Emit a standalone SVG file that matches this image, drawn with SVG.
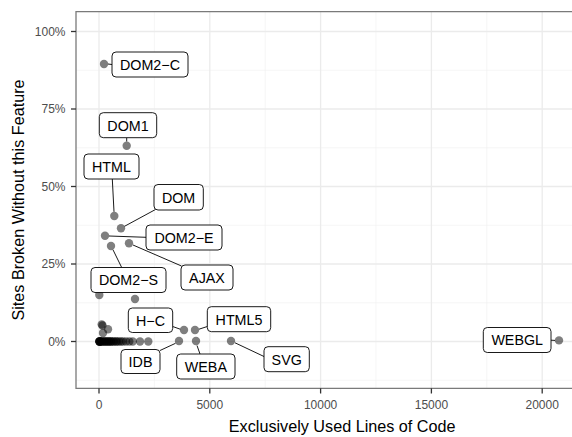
<svg xmlns="http://www.w3.org/2000/svg" width="572" height="437" viewBox="0 0 572 437">
  <style>
    text { font-family: "Liberation Sans", Arial, Helvetica, sans-serif; }
    .grid-major { stroke: #ebebeb; stroke-width: 1.3; fill: none; }
    .grid-minor { stroke: #f2f2f2; stroke-width: 0.7; fill: none; }
    .border { stroke: #7a7a7a; stroke-width: 1.3; fill: none; }
    .tick { stroke: #333333; stroke-width: 1.3; }
    .ticklab { font-size: 12px; fill: #4d4d4d; }
    .title { font-size: 16.2px; fill: #000000; }
    .pt { fill: #000000; fill-opacity: 0.5; }
    .box { fill: #ffffff; stroke: #000000; stroke-width: 0.9; }
    .lab { font-size: 14.3px; fill: #000000; text-anchor: middle; }
    .seg { stroke: #000000; stroke-width: 0.9; fill: none; }
  </style>

  <!-- panel background and grid -->
  <g id="panel">
    <rect x="76" y="11.7" width="510" height="376.6" fill="#ffffff"/>
    <g class="grid-minor">
      <line x1="76" x2="586" y1="70.25" y2="70.25"/>
      <line x1="76" x2="586" y1="147.75" y2="147.75"/>
      <line x1="76" x2="586" y1="225.25" y2="225.25"/>
      <line x1="76" x2="586" y1="302.75" y2="302.75"/>
      <line x1="76" x2="586" y1="380.25" y2="380.25"/>
      <line x1="154.4" x2="154.4" y1="11.7" y2="388.3"/>
      <line x1="265.2" x2="265.2" y1="11.7" y2="388.3"/>
      <line x1="376" x2="376" y1="11.7" y2="388.3"/>
      <line x1="486.8" x2="486.8" y1="11.7" y2="388.3"/>
    </g>
    <g class="grid-major">
      <line x1="76" x2="586" y1="31.5" y2="31.5"/>
      <line x1="76" x2="586" y1="109" y2="109"/>
      <line x1="76" x2="586" y1="186.5" y2="186.5"/>
      <line x1="76" x2="586" y1="264" y2="264"/>
      <line x1="76" x2="586" y1="341.5" y2="341.5"/>
      <line x1="99" x2="99" y1="11.7" y2="388.3"/>
      <line x1="209.8" x2="209.8" y1="11.7" y2="388.3"/>
      <line x1="320.6" x2="320.6" y1="11.7" y2="388.3"/>
      <line x1="431.4" x2="431.4" y1="11.7" y2="388.3"/>
      <line x1="542.2" x2="542.2" y1="11.7" y2="388.3"/>
    </g>
  </g>

  <!-- unlabelled observations -->
  <g id="points">
    <circle class="pt" cx="99.3" cy="295" r="4.2"/>
    <circle class="pt" cx="135" cy="299" r="4.2"/>
    <circle class="pt" cx="101.7" cy="324.5" r="4.2"/>
    <circle class="pt" cx="102.5" cy="325.5" r="4.2"/>
    <circle class="pt" cx="108" cy="329.3" r="4.2"/>
    <circle class="pt" cx="103" cy="333" r="4.2"/>
    <circle class="pt" cx="99.5" cy="341.5" r="4.2"/>
    <circle class="pt" cx="99.5" cy="341.5" r="4.2"/>
    <circle class="pt" cx="99.5" cy="341.5" r="4.2"/>
    <circle class="pt" cx="99.5" cy="341.5" r="4.2"/>
    <circle class="pt" cx="99.5" cy="341.5" r="4.2"/>
    <circle class="pt" cx="101" cy="341.5" r="4.2"/>
    <circle class="pt" cx="101" cy="341.5" r="4.2"/>
    <circle class="pt" cx="103" cy="341.5" r="4.2"/>
    <circle class="pt" cx="103" cy="341.5" r="4.2"/>
    <circle class="pt" cx="105" cy="341.5" r="4.2"/>
    <circle class="pt" cx="105" cy="341.5" r="4.2"/>
    <circle class="pt" cx="107" cy="341.5" r="4.2"/>
    <circle class="pt" cx="107" cy="341.5" r="4.2"/>
    <circle class="pt" cx="109" cy="341.5" r="4.2"/>
    <circle class="pt" cx="109" cy="341.5" r="4.2"/>
    <circle class="pt" cx="111" cy="341.5" r="4.2"/>
    <circle class="pt" cx="111" cy="341.5" r="4.2"/>
    <circle class="pt" cx="113" cy="341.5" r="4.2"/>
    <circle class="pt" cx="114" cy="341.5" r="4.2"/>
    <circle class="pt" cx="116" cy="341.5" r="4.2"/>
    <circle class="pt" cx="117" cy="341.5" r="4.2"/>
    <circle class="pt" cx="119" cy="341.5" r="4.2"/>
    <circle class="pt" cx="121" cy="341.5" r="4.2"/>
    <circle class="pt" cx="123" cy="341.5" r="4.2"/>
    <circle class="pt" cx="126" cy="341.5" r="4.2"/>
    <circle class="pt" cx="129.3" cy="341.5" r="4.2"/>
    <circle class="pt" cx="132.7" cy="341.5" r="4.2"/>
    <circle class="pt" cx="140" cy="341.5" r="4.2"/>
    <circle class="pt" cx="148.3" cy="341.5" r="4.2"/>
  </g>

  <!-- repel segments from each point to its label -->
  <g id="connectors" class="seg">
    <line x1="108" y1="64" x2="112" y2="64.5"/>
    <line x1="126.7" y1="141.5" x2="126.7" y2="137.7"/>
    <line x1="114" y1="211.8" x2="112.3" y2="179"/>
    <line x1="124.5" y1="226.3" x2="155.5" y2="209.5"/>
    <line x1="109" y1="236" x2="146" y2="237.3"/>
    <line x1="113" y1="249.8" x2="121.7" y2="267.5"/>
    <line x1="133" y1="245" x2="181.5" y2="266"/>
    <line x1="180.2" y1="329.2" x2="172.7" y2="326.5"/>
    <line x1="199" y1="329.2" x2="207.3" y2="326.5"/>
    <line x1="175.5" y1="343.3" x2="160" y2="350.5"/>
    <line x1="197" y1="345.5" x2="200" y2="354"/>
    <line x1="235" y1="342.8" x2="264" y2="356.5"/>
    <line x1="555" y1="340.4" x2="551" y2="340.2"/>
  </g>

  <!-- labelled observations -->
  <g id="dom2-c">
    <circle class="pt" cx="104" cy="64" r="4.2"/>
    <rect class="box" x="112" y="52" width="76" height="25" rx="4"/>
    <text class="lab" x="150" y="69.8">DOM2−C</text>
  </g>
  <g id="dom1">
    <circle class="pt" cx="126.7" cy="145.7" r="4.2"/>
    <rect class="box" x="99.3" y="112.7" width="57.4" height="25" rx="4"/>
    <text class="lab" x="128" y="130.5">DOM1</text>
  </g>
  <g id="html">
    <circle class="pt" cx="114.3" cy="216" r="4.2"/>
    <rect class="box" x="84" y="154" width="55" height="25" rx="4"/>
    <text class="lab" x="111.5" y="171.8">HTML</text>
  </g>
  <g id="dom">
    <circle class="pt" cx="121" cy="228.3" r="4.2"/>
    <rect class="box" x="154" y="184.5" width="49.3" height="25.5" rx="4"/>
    <text class="lab" x="178.6" y="202.5">DOM</text>
  </g>
  <g id="dom2-e">
    <circle class="pt" cx="105" cy="235.7" r="4.2"/>
    <rect class="box" x="146" y="225" width="76" height="25" rx="4"/>
    <text class="lab" x="184" y="242.8">DOM2−E</text>
  </g>
  <g id="dom2-s">
    <circle class="pt" cx="111" cy="246" r="4.2"/>
    <rect class="box" x="91" y="267.5" width="75" height="25" rx="4"/>
    <text class="lab" x="128.5" y="285.3">DOM2−S</text>
  </g>
  <g id="ajax">
    <circle class="pt" cx="129" cy="243.3" r="4.2"/>
    <rect class="box" x="181" y="265" width="52" height="25" rx="4"/>
    <text class="lab" x="207" y="282.8">AJAX</text>
  </g>
  <g id="h-c">
    <circle class="pt" cx="184" cy="330" r="4.2"/>
    <rect class="box" x="128.3" y="308" width="44.4" height="24.5" rx="4"/>
    <text class="lab" x="150.5" y="325.5">H−C</text>
  </g>
  <g id="html5">
    <circle class="pt" cx="195" cy="330" r="4.2"/>
    <rect class="box" x="207.3" y="306.7" width="63.4" height="25" rx="4"/>
    <text class="lab" x="239" y="324.5">HTML5</text>
  </g>
  <g id="idb">
    <circle class="pt" cx="179" cy="341" r="4.2"/>
    <rect class="box" x="121" y="349.5" width="39" height="24" rx="4"/>
    <text class="lab" x="140.5" y="366.8">IDB</text>
  </g>
  <g id="weba">
    <circle class="pt" cx="196" cy="341" r="4.2"/>
    <rect class="box" x="176.7" y="354" width="58.3" height="25" rx="4"/>
    <text class="lab" x="205.9" y="371.8">WEBA</text>
  </g>
  <g id="svg">
    <circle class="pt" cx="231" cy="341" r="4.2"/>
    <rect class="box" x="264" y="346.7" width="45.3" height="25" rx="4"/>
    <text class="lab" x="286.7" y="364.5">SVG</text>
  </g>
  <g id="webgl">
    <circle class="pt" cx="559" cy="340.4" r="4.2"/>
    <rect class="box" x="483.3" y="327.5" width="67.7" height="25" rx="4"/>
    <text class="lab" x="517.2" y="345.3">WEBGL</text>
  </g>

  <!-- panel border -->
  <path class="border" d="M586 11.7 H76 V388.3 H586"/>

  <!-- axes -->
  <g id="y-axis">
    <g class="tick">
      <line x1="71" x2="76" y1="31.5" y2="31.5"/>
      <line x1="71" x2="76" y1="109" y2="109"/>
      <line x1="71" x2="76" y1="186.5" y2="186.5"/>
      <line x1="71" x2="76" y1="264" y2="264"/>
      <line x1="71" x2="76" y1="341.5" y2="341.5"/>
    </g>
    <g class="ticklab" text-anchor="end">
      <text x="65.5" y="35.8">100%</text>
      <text x="65.5" y="113.3">75%</text>
      <text x="65.5" y="190.8">50%</text>
      <text x="65.5" y="268.3">25%</text>
      <text x="65.5" y="345.8">0%</text>
    </g>
    <text class="title" transform="translate(24 200) rotate(-90)" text-anchor="middle">Sites Broken Without this Feature</text>
  </g>
  <g id="x-axis">
    <g class="tick">
      <line x1="99" x2="99" y1="388.3" y2="393.5"/>
      <line x1="209.8" x2="209.8" y1="388.3" y2="393.5"/>
      <line x1="320.6" x2="320.6" y1="388.3" y2="393.5"/>
      <line x1="431.4" x2="431.4" y1="388.3" y2="393.5"/>
      <line x1="542.2" x2="542.2" y1="388.3" y2="393.5"/>
    </g>
    <g class="ticklab" text-anchor="middle">
      <text x="99" y="409.3">0</text>
      <text x="209.8" y="409.3">5000</text>
      <text x="320.6" y="409.3">10000</text>
      <text x="431.4" y="409.3">15000</text>
      <text x="542.2" y="409.3">20000</text>
    </g>
    <text class="title" x="342.2" y="432.2" text-anchor="middle">Exclusively Used Lines of Code</text>
  </g>
</svg>
